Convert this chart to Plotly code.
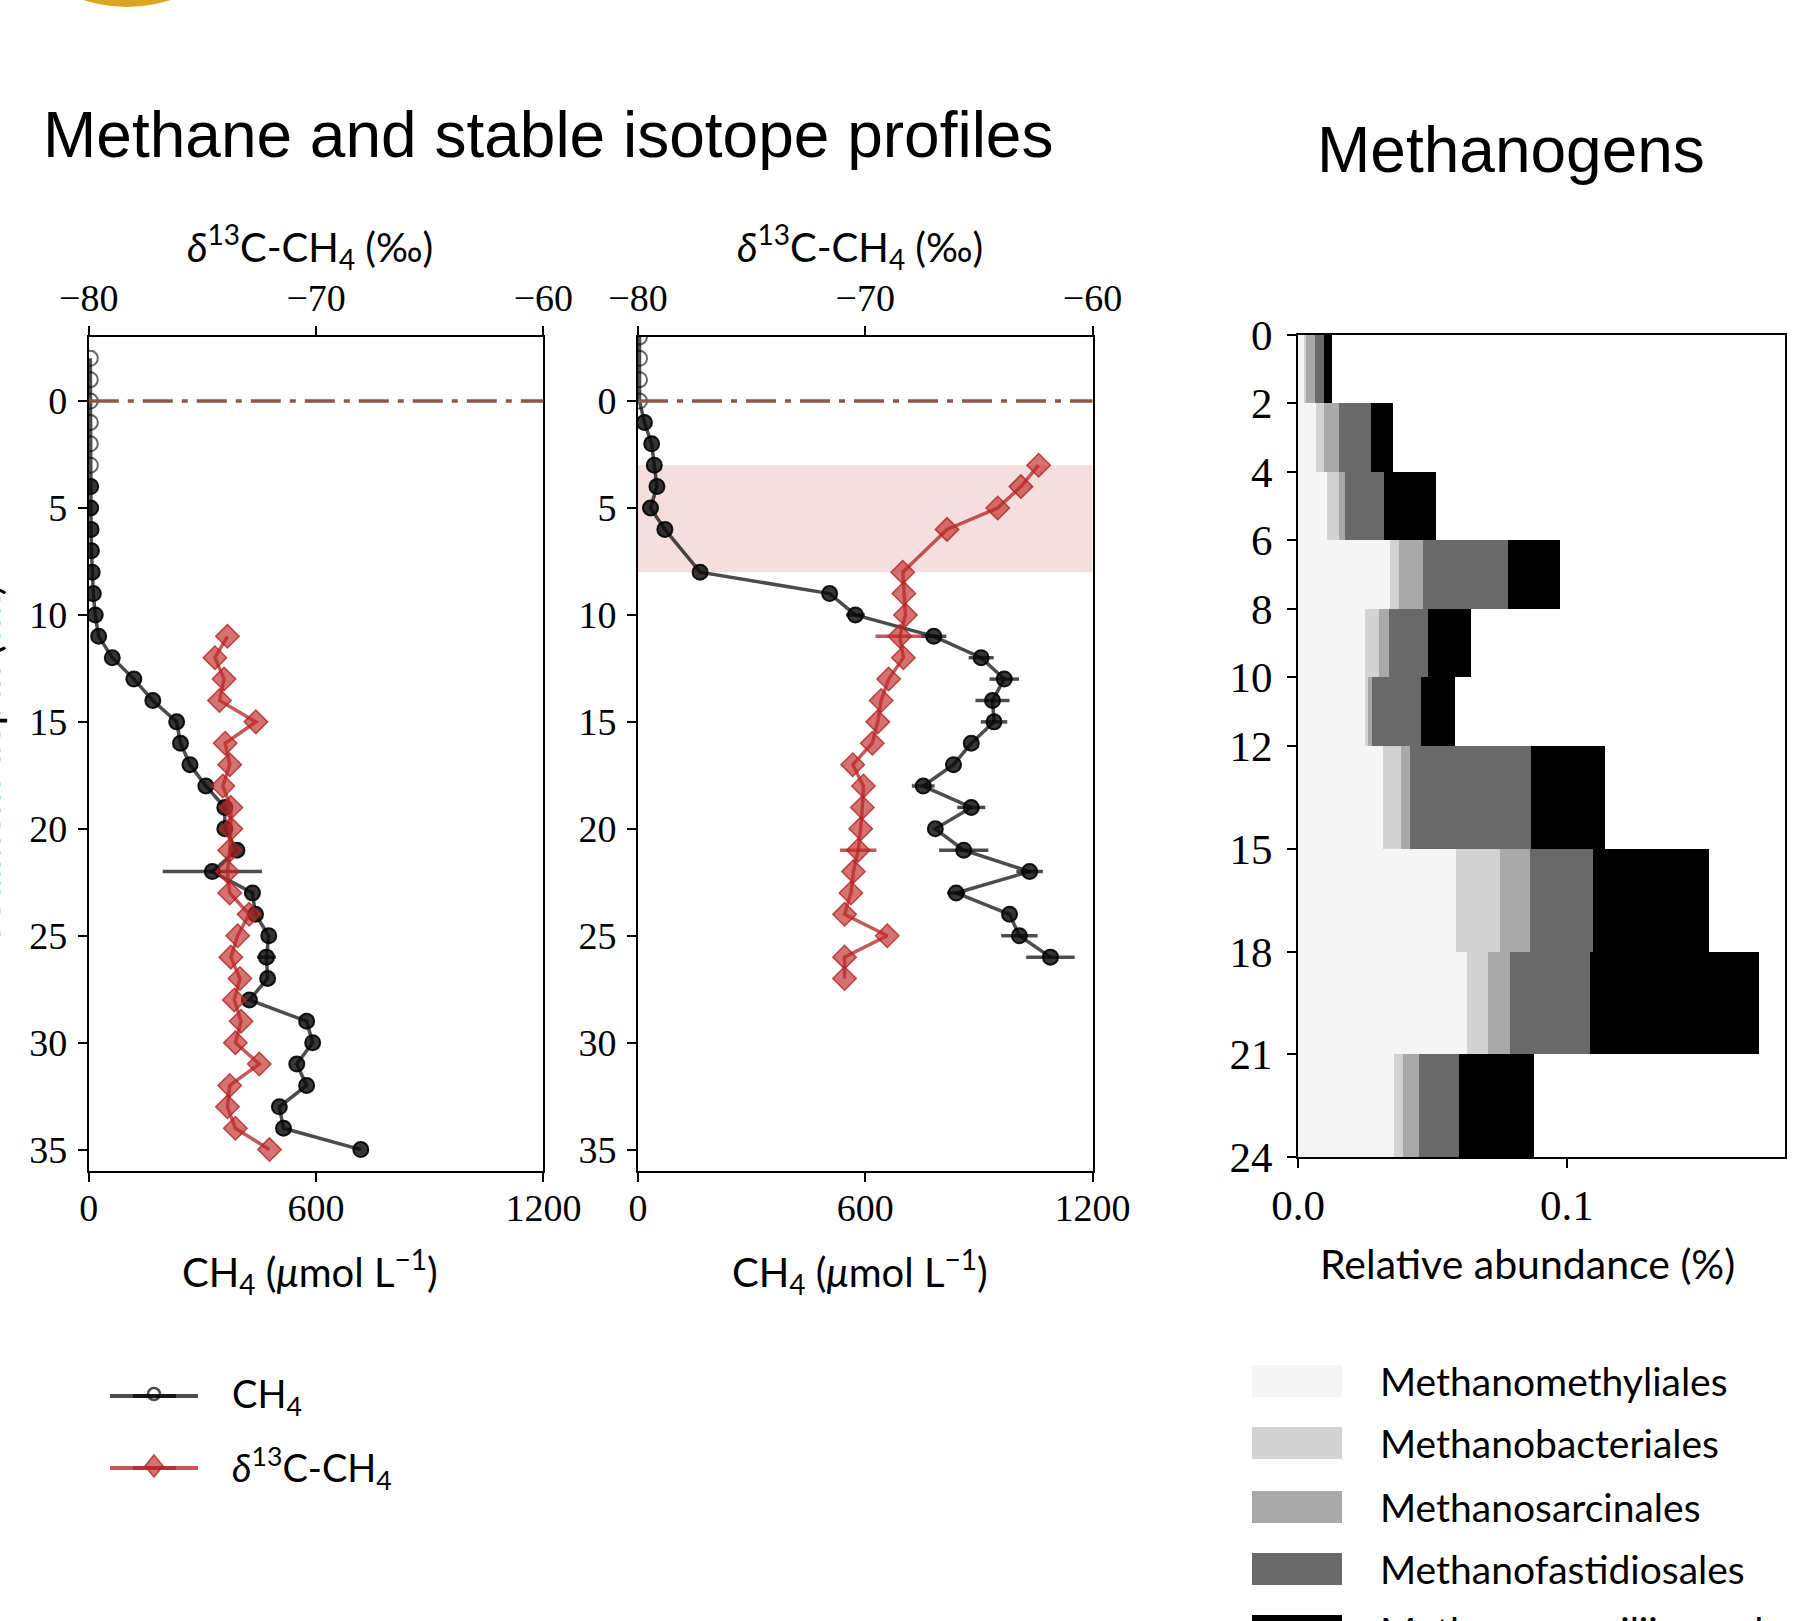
import plotly.graph_objects as go

W, H = 1809, 1621

# ---------------- data ----------------
# Panel 1 (core 1): CH4 concentration (umol/L) vs sediment depth (cm)
ch4_p1_depth = list(range(-2, 36))
ch4_p1 = [4, 4, 4, 4, 4, 4,
          5, 5, 6, 7, 9, 12, 17, 26, 62, 119, 169, 232, 242, 267, 309, 359,
          359, 391, 326, 432, 440, 475, 469, 472, 424, 575, 591, 549, 575,
          503, 514, 718]
ch4_p1_err = [0, 0, 0, 0, 0, 0,
              0, 0, 0, 0, 0, 0, 0, 0, 0, 0, 0, 0, 0, 0, 0, 0,
              0, 0, 131, 0, 0, 0, 25, 0, 0, 0, 0, 0, 0,
              0, 0, 0]
ch4_p1_hollow = [1, 1, 1, 1, 1, 1] + [0] * 32

d13_p1_depth = list(range(11, 36))
d13_p1 = [-73.9, -74.45, -74.05, -74.25, -72.65, -74.0, -73.8, -74.1, -73.75,
          -73.75, -73.8, -73.9, -73.8, -72.95, -73.45, -73.75, -73.35, -73.6,
          -73.3, -73.55, -72.5, -73.8, -73.9, -73.55, -72.05]

# Panel 2 (core 2)
ch4_p2_depth = [-3, -2, -1, 0, 1, 2, 3, 4, 5, 6, 8, 9, 10, 11, 12, 13, 14, 15,
                16, 17, 18, 19, 20, 21, 22, 23, 24, 25, 26]
ch4_p2 = [4, 4, 4, 4, 17, 36, 43, 50, 33, 71, 164, 506, 574, 781, 906, 967,
          936, 940, 880, 833, 753, 880, 785, 860, 1034, 840, 981, 1007, 1089]
ch4_p2_err = [0, 0, 0, 0, 0, 0, 0, 0, 0, 0, 0, 0, 25, 33, 33, 39, 45, 35,
              0, 0, 30, 37, 0, 65, 35, 24, 0, 48, 64]
ch4_p2_hollow = [1, 1, 1, 1] + [0] * 25

d13_p2_depth = [3, 4, 5, 6, 8, 9, 10, 11, 12, 13, 14, 15, 16, 17, 18, 19, 20,
                21, 22, 23, 24, 25, 26, 27]
d13_p2 = [-62.37, -63.15, -64.17, -66.4, -68.35, -68.3, -68.23, -68.48,
          -68.32, -68.97, -69.3, -69.45, -69.69, -70.55, -70.08, -70.13,
          -70.2, -70.31, -70.52, -70.63, -70.91, -69.03, -70.91, -70.91]
d13_p2_err = [0, 0, 0, 0, 0, 0, 0, 1.07, 0, 0, 0, 0, 0, 0, 0, 0, 0, 0.8, 0,
              0, 0, 0, 0, 0]

sms_zone = [3, 8]          # shaded depth interval (cm), panel 2
sediment_surface = 0       # dash-dot line depth

# Methanogens relative abundance (%) per depth interval
depth_edges = [0, 2, 4, 6, 8, 10, 12, 15, 18, 21, 24]
methanomethyliales = [0.0025, 0.0068, 0.0109, 0.0342, 0.025, 0.025, 0.0317, 0.0586, 0.063, 0.0357]
methanobacteriales = [0.0005, 0.0027, 0.0044, 0.0034, 0.0052, 0.001, 0.0065, 0.0166, 0.0077, 0.0034]
methanosarcinales = [0.0035, 0.0059, 0.0022, 0.0089, 0.0037, 0.0016, 0.0034, 0.0111, 0.0081, 0.0059]
methanofastidiosales = [0.003, 0.0118, 0.0145, 0.0317, 0.0143, 0.0183, 0.045, 0.0232, 0.0299, 0.0148]
methanomassiliicoccales = [0.0033, 0.0083, 0.0194, 0.0191, 0.0161, 0.0123, 0.0275, 0.0432, 0.0626, 0.0278]

taxa = ["Methanomethyliales", "Methanobacteriales", "Methanosarcinales",
        "Methanofastidiosales", "Methanomassiliicoccales"]
taxa_values = [methanomethyliales, methanobacteriales, methanosarcinales,
               methanofastidiosales, methanomassiliicoccales]
taxa_colors = ["#f5f5f5", "#d3d3d3", "#a9a9a9", "#696969", "#000000"]

ch4_ticks = [0, 600, 1200]
d13_ticks = [-80, -70, -60]
d13_ticktext = ["\u221280", "\u221270", "\u221260"]
depth_ticks = [0, 5, 10, 15, 20, 25, 30, 35]
abund_ticks = [0, 0.1]
abund_ticktext = ["0.0", "0.1"]
bin_ticks = [0, 2, 4, 6, 8, 10, 12, 15, 18, 21, 24]

# ---------------- helpers (layout only) ----------------
def px(x):
    return x / W

def py(y):
    return 1 - y / H

SERIF = "Liberation Serif"
SANS = "Lato"
HEAD = "Liberation Sans"

CH4_LINE = "rgba(0,0,0,0.7)"
RED_LINE = "rgba(178,34,34,0.75)"
RED_FILL = "rgba(190,40,40,0.65)"

fig = go.Figure()


def ch4_trace(depth, vals, err, hollow, xa, ya):
    fill = ["rgba(0,0,0,0)" if h else "rgba(10,10,10,0.82)" for h in hollow]
    edge = ["rgba(0,0,0,0.6)" if h else "rgba(0,0,0,0.9)" for h in hollow]
    return go.Scatter(
        x=vals, y=depth, mode="lines+markers", xaxis=xa, yaxis=ya,
        line=dict(color=CH4_LINE, width=3.5),
        marker=dict(symbol="circle", size=15, color=fill,
                    line=dict(color=edge, width=2)),
        error_x=dict(type="data", array=err, color=CH4_LINE, thickness=3.5, width=0),
        showlegend=False, name="CH4")


def d13_trace(depth, vals, err, xa, ya):
    return go.Scatter(
        x=vals, y=depth, mode="lines+markers", xaxis=xa, yaxis=ya,
        line=dict(color=RED_LINE, width=3.5),
        marker=dict(symbol="diamond", size=18, color=RED_FILL,
                    line=dict(color="rgba(178,34,34,0.8)", width=1.5)),
        error_x=dict(type="data", array=err, color=RED_LINE, thickness=3.5, width=0),
        showlegend=False, name="d13C-CH4")


fig.add_trace(ch4_trace(ch4_p1_depth, ch4_p1, ch4_p1_err, ch4_p1_hollow, "x", "y"))
fig.add_trace(d13_trace(d13_p1_depth, d13_p1, [0] * len(d13_p1), "x2", "y"))
fig.add_trace(ch4_trace(ch4_p2_depth, ch4_p2, ch4_p2_err, ch4_p2_hollow, "x3", "y2"))
fig.add_trace(d13_trace(d13_p2_depth, d13_p2, d13_p2_err, "x4", "y2"))

centers = [(a + b) / 2 for a, b in zip(depth_edges[:-1], depth_edges[1:])]
widths = [b - a for a, b in zip(depth_edges[:-1], depth_edges[1:])]
for name, vals, col in zip(taxa, taxa_values, taxa_colors):
    fig.add_trace(go.Bar(
        x=vals, y=centers, width=widths, orientation="h", name=name,
        marker=dict(color=col, line=dict(width=0)),
        xaxis="x5", yaxis="y3", showlegend=False))

tickfont = dict(family=SERIF, size=38, color="black")
tickfont3 = dict(family=SERIF, size=43, color="black")
ax = dict(showline=True, linecolor="black", linewidth=2, ticks="outside",
          ticklen=9, tickwidth=2, tickcolor="black", showgrid=False,
          zeroline=False, tickfont=tickfont, automargin=False)

d1 = [px(88.8), px(543.4)]
d2 = [px(638), px(1092.5)]
d3 = [px(1298), px(1784.8)]
yd12 = [py(1171), py(336.9)]
yd3 = [py(1157.2), py(334.6)]

fig.update_layout(
    width=W, height=H,
    margin=dict(l=0, r=0, t=0, b=0, pad=0),
    paper_bgcolor="white", plot_bgcolor="rgba(0,0,0,0)",
    barmode="stack", showlegend=False,
    xaxis=dict(ax, domain=d1, anchor="y", range=[0, 1200], tickvals=ch4_ticks,
               ticklabelstandoff=-7),
    xaxis2=dict(ax, overlaying="x", side="top", anchor="y", range=[-80, -60],
                tickvals=d13_ticks, ticktext=d13_ticktext),
    yaxis=dict(ax, domain=yd12, anchor="x", range=[36, -3], tickvals=depth_ticks,
               mirror=True, ticklabelstandoff=3),
    xaxis3=dict(ax, domain=d2, anchor="y2", range=[0, 1200], tickvals=ch4_ticks,
                ticklabelstandoff=-7),
    xaxis4=dict(ax, overlaying="x3", side="top", anchor="y2", range=[-80, -60],
                tickvals=d13_ticks, ticktext=d13_ticktext),
    yaxis2=dict(ax, domain=yd12, anchor="x3", range=[36, -3], tickvals=depth_ticks,
                mirror=True, ticklabelstandoff=3),
    xaxis5=dict(ax, domain=d3, anchor="y3", range=[0, 0.181], tickvals=abund_ticks,
                ticktext=abund_ticktext, mirror=True, tickfont=tickfont3),
    yaxis3=dict(ax, domain=yd3, anchor="x5", range=[24, 0], tickvals=bin_ticks,
                mirror=True, tickfont=tickfont3, ticklabelstandoff=6),
)

shapes = []
# shaded zone in panel 2
shapes.append(dict(type="rect", xref="x3 domain", yref="y2", x0=0, x1=1,
                   y0=sms_zone[0], y1=sms_zone[1], fillcolor="rgba(205,92,92,0.2)",
                   line=dict(width=0), layer="below"))
for xr, yr in (("x domain", "y"), ("x3 domain", "y2")):
    shapes.append(dict(type="line", xref=xr, yref=yr, x0=0, x1=1,
                       y0=sediment_surface, y1=sediment_surface,
                       line=dict(color="#8c564b", width=3.5, dash="30px,9px,6px,9px")))
# gold circle (top-left decoration)
shapes.append(dict(type="circle", xref="paper", yref="paper",
                   x0=px(127 - 139), x1=px(127 + 139), y0=py(7), y1=py(-271),
                   fillcolor="#DAA520", line=dict(width=0)))

# left legend
for yc, col in ((1396, CH4_LINE), (1468, RED_LINE)):
    shapes.append(dict(type="line", xref="paper", yref="paper", x0=px(110), x1=px(198),
                       y0=py(yc), y1=py(yc), line=dict(color=col, width=4)))
    shapes.append(dict(type="line", xref="paper", yref="paper", x0=px(133), x1=px(176),
                       y0=py(yc), y1=py(yc), line=dict(color=col, width=4)))
shapes.append(dict(type="circle", xref="paper", yref="paper",
                   x0=px(148), x1=px(160), y0=py(1400), y1=py(1388),
                   fillcolor="rgba(0,0,0,0)", line=dict(color="rgba(0,0,0,0.7)", width=2.5)))
cx, cy = 154, 1466
shapes.append(dict(type="path", xref="paper", yref="paper",
                   path="M %f %f L %f %f L %f %f L %f %f Z" % (
                       px(cx - 9), py(cy), px(cx), py(cy - 11),
                       px(cx + 9), py(cy), px(cx), py(cy + 11)),
                   fillcolor=RED_FILL, line=dict(color="rgba(178,34,34,0.8)", width=1.5)))

# right legend patches
leg_y = [1381, 1443, 1507, 1569, 1631]
for yc, col in zip(leg_y, taxa_colors):
    shapes.append(dict(type="rect", xref="paper", yref="paper", x0=px(1252), x1=px(1342),
                       y0=py(yc + 16), y1=py(yc - 16), fillcolor=col, line=dict(width=0)))
fig.update_layout(shapes=shapes)

ann = []


def text(t, x, y, size, family, xanchor="center", yanchor="middle", angle=0):
    ann.append(dict(text=t, x=px(x), y=py(y), xref="paper", yref="paper",
                    xanchor=xanchor, yanchor=yanchor, showarrow=False, textangle=angle,
                    borderpad=0, font=dict(family=family, size=size, color="black")))


text("Methane and stable isotope profiles", 42, 135, 64, HEAD, xanchor="left")
text("Methanogens", 1511, 150, 64, HEAD)
d13_title = "<i>\u03b4</i><sup>13</sup>C-CH<sub>4</sub> (\u2030)"
ch4_title = "CH<sub>4</sub> (<i>\u03bc</i>mol L<sup>\u22121</sup>)"
for xc in (310, 860):
    text(d13_title, xc, 246, 40, SANS)
    text(ch4_title, xc, 1271, 40, SANS)
text("Relative abundance (%)", 1527, 1263, 41, SANS)
text("Sediment depth (cm)", 10, 765, 40, SANS, xanchor="right", angle=-90)

text("CH<sub>4</sub>", 231, 1396, 38, SANS, xanchor="left")
text("<i>\u03b4</i><sup>13</sup>C-CH<sub>4</sub>", 231, 1468, 38, SANS, xanchor="left")
for yc, name in zip(leg_y, taxa):
    text(name, 1379, yc, 39, SANS, xanchor="left")

fig.update_layout(annotations=ann)

fig.write_html("out.html")
